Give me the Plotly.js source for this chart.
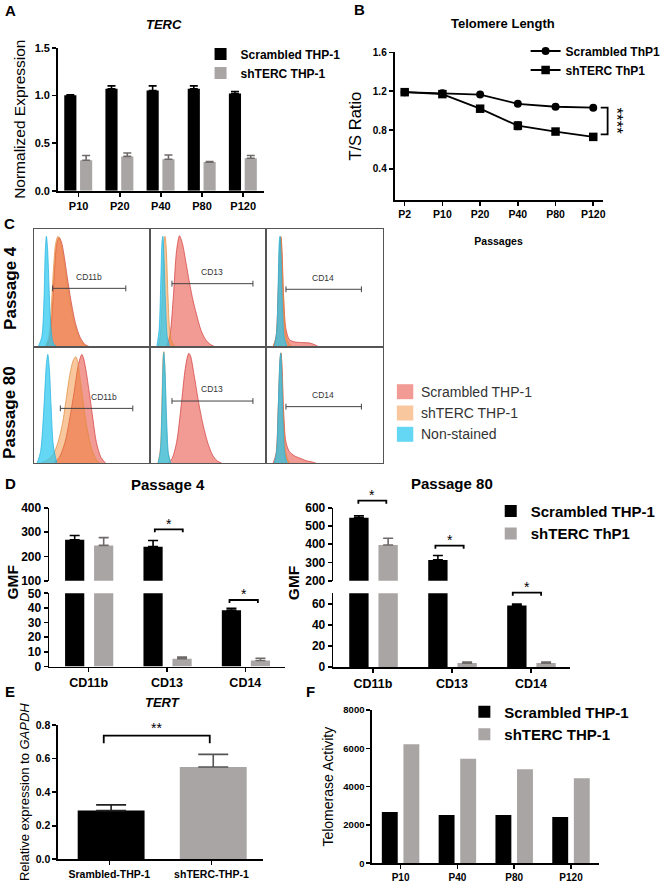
<!DOCTYPE html>
<html><head><meta charset="utf-8">
<script src="https://cdn.plot.ly/plotly-3.0.1.min.js"></script>
<style>html,body{margin:0;padding:0;background:#fff}#chart{width:666px;height:888px}</style>
</head><body><div id="chart"></div>
<script>
// ================= DATA =================
// Panel A: TERC normalized expression
const passagesA = ['P10','P20','P40','P80','P120'];
const tercScrambled = [1.00,1.07,1.05,1.07,1.02];
const tercScrambledErr = [0.005,0.03,0.05,0.03,0.02];
const tercSh = [0.32,0.36,0.33,0.30,0.34];
const tercShErr = [0.05,0.035,0.045,0.005,0.03];

// Panel B: telomere length (T/S ratio)
const passagesB = ['P2','P10','P20','P40','P80','P120'];
const tsScrambled = [1.19,1.18,1.165,1.07,1.04,1.03];
const tsScrambledErr = [0.01,0.01,0.01,0.012,0.01,0.01];
const tsSh = [1.19,1.17,1.02,0.845,0.785,0.73];
const tsShErr = [0.012,0.015,0.015,0.04,0.012,0.015];

// Panel C: flow cytometry histograms (x = fluorescence fraction, y = relative count)
const flowX_P4_CD11b_scr = [0.11,0.14,0.16,0.18,0.20,0.22,0.24,0.26,0.29,0.32,0.36,0.40,0.44,0.48];
const flowY_P4_CD11b_scr = [0,0.08,0.30,0.65,0.88,0.93,0.89,0.79,0.59,0.40,0.20,0.08,0.02,0];
const flowX_P4_CD11b_sh = [0.10,0.13,0.15,0.17,0.19,0.21,0.23,0.25,0.28,0.31,0.35,0.39,0.43,0.47];
const flowY_P4_CD11b_sh = [0,0.08,0.30,0.65,0.88,0.94,0.90,0.80,0.60,0.40,0.20,0.08,0.02,0];
const flowX_P4_CD11b_non = [0.04,0.07,0.09,0.10,0.11,0.12,0.135,0.15,0.17,0.20];
const flowY_P4_CD11b_non = [0,0.08,0.42,0.80,0.94,0.84,0.45,0.15,0.03,0];

const flowX_P4_CD13_scr = [0.14,0.17,0.20,0.23,0.255,0.28,0.31,0.34,0.37,0.40,0.44,0.48,0.52,0.56];
const flowY_P4_CD13_scr = [0,0.08,0.40,0.82,0.945,0.88,0.72,0.55,0.40,0.28,0.14,0.06,0.02,0];
const flowX_P4_CD13_sh = [0.07,0.09,0.11,0.12,0.13,0.14,0.155,0.17,0.19,0.22];
const flowY_P4_CD13_sh = [0,0.10,0.55,0.88,0.94,0.85,0.45,0.15,0.04,0];
const flowX_P4_CD13_non = [0.06,0.08,0.095,0.105,0.112,0.12,0.135,0.15,0.17];
const flowY_P4_CD13_non = [0,0.15,0.60,0.90,0.94,0.80,0.35,0.08,0];

const flowX_P4_CD14_scr = [0.06,0.085,0.105,0.118,0.128,0.137,0.15,0.17,0.20,0.25,0.32,0.38,0.42,0.45];
const flowY_P4_CD14_scr = [0,0.08,0.50,0.87,0.93,0.80,0.42,0.15,0.06,0.04,0.035,0.03,0.015,0];
const flowX_P4_CD14_sh = [0.06,0.085,0.105,0.118,0.126,0.135,0.15,0.17,0.20,0.23];
const flowY_P4_CD14_sh = [0,0.08,0.50,0.88,0.94,0.80,0.40,0.10,0.02,0];
const flowX_P4_CD14_non = [0.07,0.09,0.105,0.113,0.119,0.127,0.14,0.155,0.18];
const flowY_P4_CD14_non = [0,0.12,0.60,0.90,0.94,0.80,0.35,0.08,0];

const flowX_P80_CD11b_scr = [0.17,0.22,0.27,0.31,0.35,0.38,0.40,0.415,0.43,0.45,0.48,0.51,0.54,0.58,0.62];
const flowY_P80_CD11b_scr = [0,0.05,0.18,0.38,0.62,0.82,0.90,0.934,0.90,0.80,0.60,0.38,0.18,0.05,0];
const flowX_P80_CD11b_sh = [0.06,0.12,0.17,0.21,0.25,0.28,0.31,0.34,0.363,0.38,0.40,0.43,0.46,0.50,0.54,0.57];
const flowY_P80_CD11b_sh = [0,0.03,0.08,0.18,0.35,0.55,0.75,0.88,0.914,0.87,0.72,0.50,0.30,0.12,0.03,0];
const flowX_P80_CD11b_non = [0.03,0.06,0.09,0.11,0.122,0.135,0.15,0.17,0.20];
const flowY_P80_CD11b_non = [0,0.10,0.50,0.85,0.934,0.82,0.50,0.15,0];

const flowX_P80_CD13_scr = [0.15,0.19,0.23,0.27,0.30,0.32,0.335,0.35,0.38,0.42,0.46,0.50,0.54,0.58,0.62];
const flowY_P80_CD13_scr = [0,0.04,0.18,0.50,0.78,0.90,0.943,0.92,0.76,0.52,0.32,0.17,0.07,0.02,0];
const flowX_P80_CD13_sh = [0.07,0.09,0.105,0.113,0.12,0.128,0.14,0.155,0.18];
const flowY_P80_CD13_sh = [0,0.12,0.60,0.90,0.957,0.85,0.40,0.10,0];
const flowX_P80_CD13_non = [0.07,0.09,0.105,0.115,0.12,0.13,0.145,0.16,0.18];
const flowY_P80_CD13_non = [0,0.10,0.50,0.88,0.95,0.80,0.35,0.08,0];

const flowX_P80_CD14_scr = [0.06,0.085,0.105,0.12,0.128,0.137,0.15,0.17,0.20,0.25,0.30,0.35,0.40,0.43];
const flowY_P80_CD14_scr = [0,0.08,0.50,0.88,0.94,0.82,0.45,0.18,0.10,0.06,0.04,0.02,0.01,0];
const flowX_P80_CD14_sh = [0.07,0.09,0.108,0.12,0.127,0.135,0.15,0.17,0.20];
const flowY_P80_CD14_sh = [0,0.10,0.55,0.90,0.949,0.82,0.38,0.08,0];
const flowX_P80_CD14_non = [0.07,0.09,0.105,0.118,0.125,0.133,0.145,0.16,0.18];
const flowY_P80_CD14_non = [0,0.10,0.50,0.88,0.945,0.80,0.35,0.08,0];

const flowPopulations = ['Scrambled THP-1','shTERC THP-1','Non-stained'];
const flowCellMarkers = ['CD11b','CD13','CD14','CD11b','CD13','CD14'];
const flowRowLabels = ['Passage 4','Passage 80'];

// Panel D: GMF
const markers = ['CD11b','CD13','CD14'];
const gmfP4Scrambled = [268,240,38.5];
const gmfP4ScrambledErr = [18,25,1.3];
const gmfP4Sh = [245,5.3,4.1];
const gmfP4ShErr = [32,1.1,1.5];
const gmfP80Scrambled = [545,314,58.4];
const gmfP80ScrambledErr = [10,24,1.5];
const gmfP80Sh = [396,3.7,3.7];
const gmfP80ShErr = [37,1,1];

// Panel E: TERT
const tertGroups = ['Srambled-THP-1','shTERC-THP-1'];
const tertValues = [0.29,0.55];
const tertErr = [0.034,0.075];

// Panel F: telomerase activity
const passagesF = ['P10','P40','P80','P120'];
const telomeraseScrambled = [2680,2520,2520,2420];
const telomeraseSh = [6210,5460,4910,4440];

// ================= LAYOUT HELPERS =================
const W = 666, H = 888;
const px = v => v / W;
const py = v => 1 - v / H;
const dX = (a, b) => [a / W, b / W];
const dY = (top, bottom) => [1 - bottom / H, 1 - top / H];
const FONT = 'Liberation Sans, Arial, Helvetica, sans-serif';
const TF = (size, bold = true, color = '#000') => ({family: FONT, size: size, color: color, weight: bold ? 'bold' : 'normal'});
const BLACK = '#000000', GRAY = '#aaa5a5', GRAY_ERR = '#6f6a6a';
const zeros = a => a.map(() => 0);

function gpAxis(extra) {
  return Object.assign({showline: true, linecolor: '#000', linewidth: 1.8, ticks: 'outside', ticklen: 4,
    tickwidth: 1.6, tickcolor: '#000', showgrid: false, zeroline: false, fixedrange: true}, extra);
}
function err(arr, color, w) {
  return {type: 'data', array: arr, arrayminus: zeros(arr), symmetric: false, color: color, thickness: 1.6, width: w};
}

const traces = [];

// ---- A ----
traces.push({type: 'bar', x: passagesA, y: tercScrambled, name: 'Scrambled THP-1', xaxis: 'x', yaxis: 'y',
  marker: {color: BLACK}, width: 0.295, offset: -0.348, error_y: err(tercScrambledErr, BLACK, 4), legend: 'legend'});
traces.push({type: 'bar', x: passagesA, y: tercSh, name: 'shTERC THP-1', xaxis: 'x', yaxis: 'y',
  marker: {color: GRAY}, width: 0.295, offset: 0.036, error_y: err(tercShErr, GRAY_ERR, 4), legend: 'legend'});

// ---- B ----
traces.push({type: 'scatter', mode: 'lines+markers', x: passagesB, y: tsScrambled, name: 'Scrambled ThP1',
  xaxis: 'x2', yaxis: 'y2', line: {color: BLACK, width: 1.8}, marker: {symbol: 'circle', size: 8, color: BLACK},
  error_y: {type: 'data', array: tsScrambledErr, color: BLACK, thickness: 1.3, width: 3}, cliponaxis: false, legend: 'legend2'});
traces.push({type: 'scatter', mode: 'lines+markers', x: passagesB, y: tsSh, name: 'shTERC ThP1',
  xaxis: 'x2', yaxis: 'y2', line: {color: BLACK, width: 1.8}, marker: {symbol: 'square', size: 8.5, color: BLACK},
  error_y: {type: 'data', array: tsShErr, color: BLACK, thickness: 1.3, width: 3}, cliponaxis: false, legend: 'legend2'});

// ---- C ----
const flowCells = [
  [[flowX_P4_CD11b_scr, flowY_P4_CD11b_scr], [flowX_P4_CD11b_sh, flowY_P4_CD11b_sh], [flowX_P4_CD11b_non, flowY_P4_CD11b_non]],
  [[flowX_P4_CD13_scr, flowY_P4_CD13_scr], [flowX_P4_CD13_sh, flowY_P4_CD13_sh], [flowX_P4_CD13_non, flowY_P4_CD13_non]],
  [[flowX_P4_CD14_scr, flowY_P4_CD14_scr], [flowX_P4_CD14_sh, flowY_P4_CD14_sh], [flowX_P4_CD14_non, flowY_P4_CD14_non]],
  [[flowX_P80_CD11b_scr, flowY_P80_CD11b_scr], [flowX_P80_CD11b_sh, flowY_P80_CD11b_sh], [flowX_P80_CD11b_non, flowY_P80_CD11b_non]],
  [[flowX_P80_CD13_scr, flowY_P80_CD13_scr], [flowX_P80_CD13_sh, flowY_P80_CD13_sh], [flowX_P80_CD13_non, flowY_P80_CD13_non]],
  [[flowX_P80_CD14_scr, flowY_P80_CD14_scr], [flowX_P80_CD14_sh, flowY_P80_CD14_sh], [flowX_P80_CD14_non, flowY_P80_CD14_non]]
];
const flowFill = ['rgba(232,72,62,0.55)', 'rgba(240,130,40,0.45)', 'rgba(40,200,240,0.72)'];
const flowLine = ['rgba(210,60,60,0.9)', 'rgba(225,140,60,0.9)', 'rgba(40,180,225,0.95)'];
flowCells.forEach((cell, i) => {
  cell.forEach((pop, j) => {
    traces.push({type: 'scatter', mode: 'lines', x: pop[0], y: pop[1], name: flowPopulations[j],
      xaxis: 'x' + (3 + i), yaxis: 'y' + (3 + i), fill: 'tozeroy', fillcolor: flowFill[j],
      line: {color: flowLine[j], width: 0.8, shape: 'spline', smoothing: 0.8}, showlegend: false, hoverinfo: 'skip'});
  });
});

// ---- D ----
const dSets = [
  {x: 'x9', lo: 'y9', hi: 'y10', scr: gmfP4Scrambled, scrE: gmfP4ScrambledErr, sh: gmfP4Sh, shE: gmfP4ShErr, leg: true},
  {x: 'x10', lo: 'y11', hi: 'y12', scr: gmfP80Scrambled, scrE: gmfP80ScrambledErr, sh: gmfP80Sh, shE: gmfP80ShErr, leg: false}
];
dSets.forEach(s => {
  [s.lo, s.hi].forEach((ya, k) => {
    traces.push({type: 'bar', x: markers, y: s.scr, name: 'Scrambled THP-1', xaxis: s.x, yaxis: ya,
      marker: {color: BLACK}, width: 0.245, offset: -0.30, error_y: err(s.scrE, BLACK, 5),
      showlegend: s.leg && k === 0, legend: 'legend3'});
    traces.push({type: 'bar', x: markers, y: s.sh, name: 'shTERC ThP1', xaxis: s.x, yaxis: ya,
      marker: {color: GRAY}, width: 0.245, offset: 0.07, error_y: err(s.shE, GRAY_ERR, 5),
      showlegend: s.leg && k === 0, legend: 'legend3'});
  });
});

// ---- E ----
traces.push({type: 'bar', x: tertGroups.slice(0, 1), y: tertValues.slice(0, 1), name: tertGroups[0], xaxis: 'x11', yaxis: 'y13',
  marker: {color: BLACK}, width: 0.655, offset: -0.31, error_y: err(tertErr.slice(0, 1), '#222', 15), showlegend: false});
traces.push({type: 'bar', x: tertGroups.slice(1, 2), y: tertValues.slice(1, 2), name: tertGroups[1], xaxis: 'x11', yaxis: 'y13',
  marker: {color: GRAY}, width: 0.655, offset: -0.31, error_y: err(tertErr.slice(1, 2), '#555', 15), showlegend: false});

// ---- F ----
traces.push({type: 'bar', x: passagesF, y: telomeraseScrambled, name: 'Scrambled THP-1', xaxis: 'x12', yaxis: 'y14',
  marker: {color: BLACK}, width: 0.28, offset: -0.33, legend: 'legend4'});
traces.push({type: 'bar', x: passagesF, y: telomeraseSh, name: 'shTERC THP-1', xaxis: 'x12', yaxis: 'y14',
  marker: {color: GRAY}, width: 0.28, offset: 0.05, legend: 'legend4'});

// ================= LAYOUT =================
const layout = {
  width: W, height: H, margin: {l: 0, r: 0, t: 0, b: 0}, paper_bgcolor: '#fff', plot_bgcolor: 'rgba(0,0,0,0)',
  barmode: 'overlay', font: {family: FONT, color: '#000'}, showlegend: true,
  // A
  xaxis: gpAxis({domain: dX(58.7, 267), anchor: 'y', type: 'category', range: [-0.5, 4.5], tickfont: TF(11)}),
  yaxis: gpAxis({domain: dY(47.7, 190.7), anchor: 'x', range: [0, 1.5], dtick: 0.5, tickformat: '.1f', tickfont: TF(11),
    title: {text: 'Normalized Expression', font: TF(15.5, false), standoff: 5}}),
  // B
  xaxis2: gpAxis({domain: dX(399.3, 610), anchor: 'y2', type: 'category', range: [-0.27, 5.25], tickfont: TF(10.5),
    title: {text: 'Passages', font: TF(10.5), standoff: 18}}),
  yaxis2: gpAxis({domain: dY(52.3, 200), anchor: 'x2', range: [0.081, 1.6], dtick: 0.4, tick0: 0, tickformat: '.1f', tickfont: TF(10),
    title: {text: 'T/S Ratio', font: TF(16.5, false), standoff: 7}}),
  // D left
  xaxis9: gpAxis({domain: dX(50, 288), anchor: 'y9', type: 'category', range: [-0.5, 2.5], tickfont: TF(12.5)}),
  yaxis9: gpAxis({domain: dY(593.3, 666.5), anchor: 'x9', range: [0, 50], dtick: 10, tickfont: TF(12)}),
  yaxis10: gpAxis({domain: dY(507.7, 580.7), anchor: 'x9', range: [100, 400], dtick: 100, tickfont: TF(12)}),
  // D right
  xaxis10: gpAxis({domain: dX(337.5, 577.3), anchor: 'y11', type: 'category', range: [-0.5, 2.5], tickfont: TF(12.5)}),
  yaxis11: gpAxis({domain: dY(593.3, 667), anchor: 'x10', range: [0, 70], dtick: 20, tickfont: TF(12)}),
  yaxis12: gpAxis({domain: dY(507.7, 580.7), anchor: 'x10', range: [200, 600], dtick: 100, tickfont: TF(12)}),
  // E
  xaxis11: gpAxis({domain: dX(59, 265.7), anchor: 'y13', type: 'category', range: [-0.5, 1.5], tickfont: TF(10.5)}),
  yaxis13: gpAxis({domain: dY(725, 859.3), anchor: 'x11', range: [0, 0.8], dtick: 0.2, tickformat: '.1f', tickfont: TF(10.5),
    title: {text: 'Relative expression to <i>GAPDH</i>', font: TF(13, false), standoff: 3}}),
  // F
  xaxis12: gpAxis({domain: dX(376.7, 606.7), anchor: 'y14', type: 'category', range: [-0.5, 3.5], tickfont: TF(10)}),
  yaxis14: gpAxis({domain: dY(710, 863.3), anchor: 'x12', range: [0, 8000], dtick: 2000, tickformat: 'd', tickfont: TF(9.5),
    title: {text: 'Telomerase Activity', font: TF(14, false), standoff: 6}}),
  legend: {x: px(203), y: py(39.5), xanchor: 'left', yanchor: 'top', bgcolor: 'rgba(0,0,0,0)', itemwidth: 30, font: TF(12)},
  legend2: {x: px(532), y: py(36.5), xanchor: 'left', yanchor: 'top', bgcolor: 'rgba(0,0,0,0)', itemwidth: 30, font: TF(12)},
  legend3: {x: px(496.7), y: py(494.7), xanchor: 'left', yanchor: 'top', bgcolor: 'rgba(0,0,0,0)', itemwidth: 30, font: TF(15)},
  legend4: {x: px(470), y: py(695.5), xanchor: 'left', yanchor: 'top', bgcolor: 'rgba(0,0,0,0)', itemwidth: 30, font: TF(15)},
  annotations: [], shapes: []
};

// C cell axes
const cCols = [[34, 151.7], [151.7, 269.3], [269.3, 387.7]];
const cRows = [[229.3, 346.7], [346.7, 463.3]];
for (let i = 0; i < 6; i++) {
  const col = cCols[i % 3], row = cRows[Math.floor(i / 3)];
  layout['xaxis' + (3 + i)] = {domain: dX(col[0], col[1]), anchor: 'y' + (3 + i), range: [0, 1], showline: true, mirror: true,
    linecolor: '#555', linewidth: 1, showticklabels: false, ticks: '', showgrid: false, zeroline: false, fixedrange: true};
  layout['yaxis' + (3 + i)] = {domain: dY(row[0], row[1]), anchor: 'x' + (3 + i), range: [0, 1], showline: true, mirror: true,
    linecolor: '#555', linewidth: 1, showticklabels: false, ticks: '', showgrid: false, zeroline: false, fixedrange: true};
}
// gates
const gateStart = [0.164, 0.19, 0.17, 0.23, 0.19, 0.17];
const gateEnd = [0.793, 0.887, 0.815, 0.853, 0.887, 0.815];
const gateLevel = [0.497, 0.537, 0.489, 0.471, 0.534, 0.486];
const gateLabelX = [0.476, 0.538, 0.487, 0.603, 0.538, 0.487];
const gateLabelY = [0.597, 0.633, 0.588, 0.566, 0.634, 0.583];
for (let i = 0; i < 6; i++) {
  const a = gateStart[i], b = gateEnd[i], y = gateLevel[i], t = 0.025;
  layout.shapes.push({type: 'path', xref: 'x' + (3 + i), yref: 'y' + (3 + i),
    path: `M${a},${y - t} L${a},${y + t} M${a},${y} L${b},${y} M${b},${y - t} L${b},${y + t}`,
    line: {color: '#444', width: 1}});
  layout.annotations.push({xref: 'x' + (3 + i), yref: 'y' + (3 + i), x: gateLabelX[i], y: gateLabelY[i], text: flowCellMarkers[i],
    showarrow: false, font: TF(8.5, false, '#333'), xanchor: 'center', yanchor: 'middle'});
}
// C legend (swatches)
const cLegY = [391.7, 413, 434.3];
flowPopulations.forEach((name, j) => {
  layout.shapes.push({type: 'rect', xref: 'paper', yref: 'paper', x0: px(401.7), x1: px(418.3), y0: py(cLegY[j] + 7.5), y1: py(cLegY[j] - 7.5),
    fillcolor: flowFill[j], line: {width: 0}});
  layout.annotations.push({xref: 'paper', yref: 'paper', x: px(424), y: py(cLegY[j]), text: name, showarrow: false,
    xanchor: 'left', yanchor: 'middle', font: TF(14, false, '#333')});
});

// text helper
function txt(x, y, text, font, extra) {
  layout.annotations.push(Object.assign({xref: 'paper', yref: 'paper', x: px(x), y: py(y), text: text, showarrow: false,
    xanchor: 'center', yanchor: 'middle', font: font}, extra || {}));
}
// panel letters
txt(11, 10.5, 'A', TF(15)); txt(363.5, 10, 'B', TF(15)); txt(10, 224, 'C', TF(15));
txt(10.5, 483, 'D', TF(15)); txt(10.5, 691, 'E', TF(15)); txt(314, 691, 'F', TF(15));
// titles
txt(166, 25, '<i>TERC</i>', TF(13)); txt(509, 23, 'Telomere Length', TF(13));
txt(170, 484, 'Passage 4', TF(15)); txt(457.5, 483, 'Passage 80', TF(15));
txt(164, 702, '<i>TERT</i>', TF(13));
// C row labels
txt(10, 288, flowRowLabels[0], TF(17), {textangle: -90});
txt(10, 412, flowRowLabels[1], TF(17), {textangle: -90});
// GMF labels
txt(11.7, 583, 'GMF', TF(15.5), {textangle: -90});
txt(296.7, 583, 'GMF', TF(15.5), {textangle: -90});

// significance brackets
function bracketH(x0, x1, y, drop, star, sy, size) {
  layout.shapes.push({type: 'path', xref: 'paper', yref: 'paper',
    path: `M${px(x0)},${py(y + drop)} L${px(x0)},${py(y)} L${px(x1)},${py(y)} L${px(x1)},${py(y + drop)}`,
    line: {color: '#000', width: 1.8}});
  txt((x0 + x1) / 2, sy, star, TF(size, false));
}
bracketH(156.7, 185, 529.3, 3, '*', 523.5, 14);
bracketH(232.3, 261, 600, 3, '*', 594, 14);
bracketH(362.7, 391, 500.7, 3, '*', 494.5, 14);
bracketH(440.7, 469.3, 545.7, 3, '*', 539.5, 14);
bracketH(519, 547.7, 592.7, 3, '*', 586.5, 14);
bracketH(105, 212.3, 735.7, 7.5, '**', 728, 14);
// B vertical bracket
layout.shapes.push({type: 'path', xref: 'paper', yref: 'paper',
  path: `M${px(608)},${py(107.7)} L${px(615)},${py(107.7)} L${px(615)},${py(134.3)} L${px(608)},${py(134.3)}`,
  line: {color: '#000', width: 1.8}});
txt(624, 121, '****', TF(17, false), {textangle: 90});

Plotly.newPlot('chart', traces, layout, {staticPlot: true, displayModeBar: false});
</script>
</body></html>
